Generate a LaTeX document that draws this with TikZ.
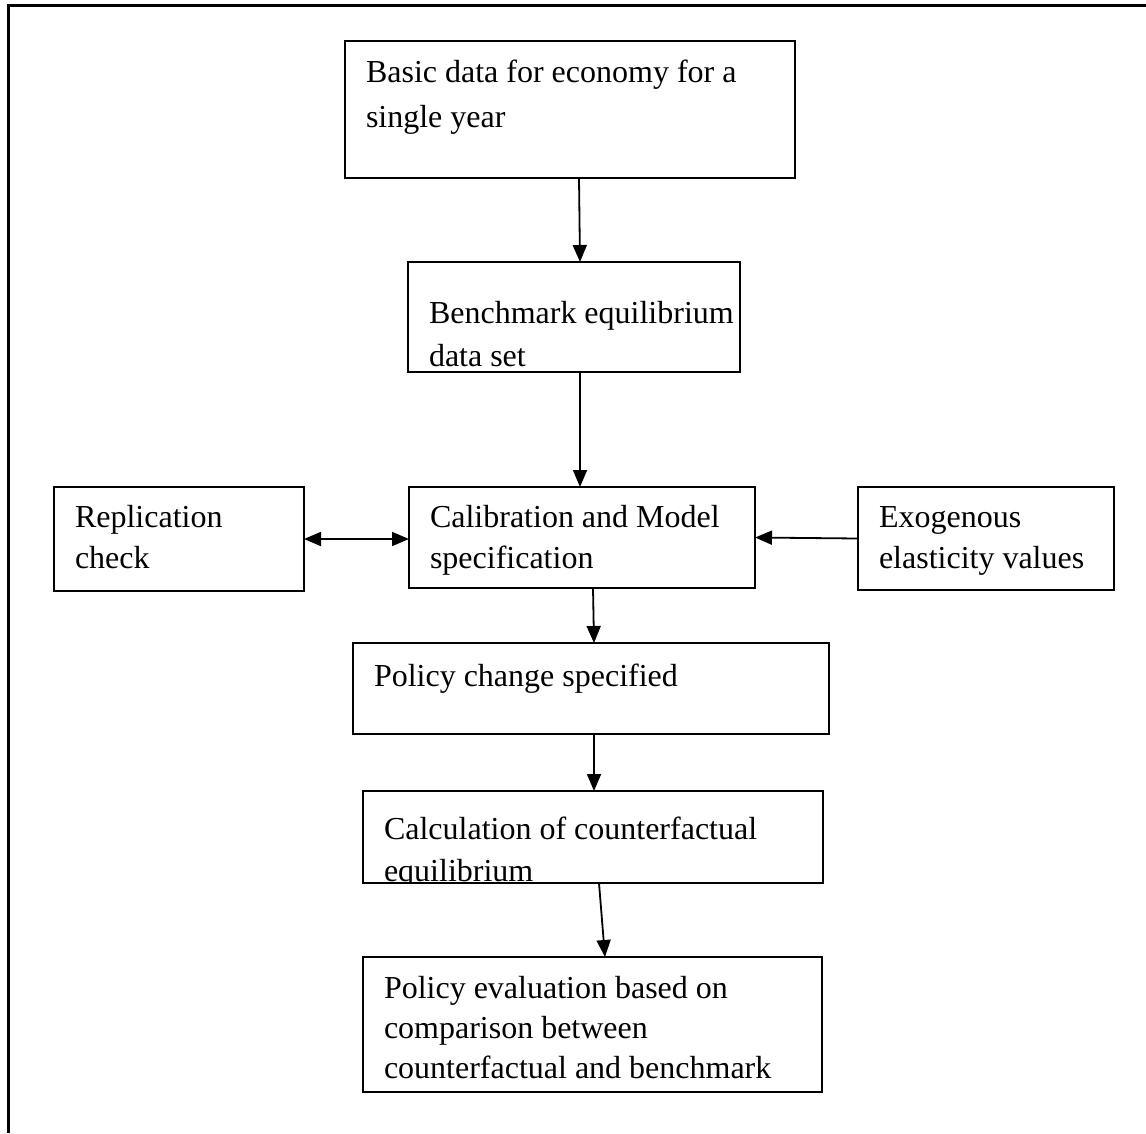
\documentclass[tikz,border=0pt]{standalone}
\usepackage{fontspec}
\setmainfont{Liberation Serif}
\usetikzlibrary{arrows.meta}

% box content: width, height, first baseline from top, line spacing, lines
\newcommand{\boxtext}[5]{%
  \parbox[t][#2][t]{#1}{\fontsize{32}{#4}\selectfont
    \leftskip=21pt\rightskip=0pt plus 1fil
    \rule{0pt}{#3}#5}}

\tikzset{
  box/.style={draw, line width=2pt, inner sep=0pt, outer sep=0pt, anchor=north west},
  textonly/.style={inner sep=0pt, outer sep=0pt, anchor=north west},
  tip/.tip={Triangle[length=17pt,width=14pt]},
  link/.style={line width=1.8pt, -tip},
  biglink/.style={line width=1.8pt, tip-tip},
  frame/.style={line width=3pt},
}

\begin{document}
\begin{tikzpicture}[x=1pt,y=-1pt]
\useasboundingbox (0,0) rectangle (1146,1133);

% open frame along the top and left
\draw[frame] (8,1133) -- (8,5) -- (1146,5);

% flow steps
\node[box] (basic) at (345,41)
  {\boxtext{450pt}{137pt}{41pt}{45pt}{\mbox{Basic data for economy for a}\\\mbox{single year}}};
\node[box] (bench) at (408,262)
  {\boxtext{332pt}{110pt}{61pt}{43pt}{\mbox{Benchmark equilibrium}\\\mbox{data set}}};
\node[box] (calib) at (409,487)
  {\boxtext{346pt}{101pt}{40pt}{41pt}{\mbox{Calibration and Model}\\\mbox{specification}}};
\node[box] (repl) at (54,487)
  {\boxtext{250pt}{104pt}{40pt}{41pt}{\mbox{Replication}\\\mbox{check}}};
\node[box] (exog) at (858,487)
  {\boxtext{256pt}{103pt}{40pt}{41pt}{\mbox{Exogenous}\\\mbox{elasticity values}}};
\node[box] (policy) at (353,643)
  {\boxtext{476pt}{91pt}{43pt}{42pt}{\mbox{Policy change specified}}};
\node[box, minimum width=460pt, minimum height=92pt] (counter) at (363,791) {};
\begin{scope}
  \clip ([yshift=1pt]counter.south west) rectangle (counter.north east);
  \node[textonly] (countertext) at (counter.north west)
    {\boxtext{460pt}{92pt}{48pt}{42pt}{\mbox{Calculation of counterfactual}\\\mbox{equilibrium}}};
\end{scope}
\node[box] (evalu) at (363,957)
  {\boxtext{459pt}{135pt}{41pt}{40pt}{\mbox{Policy evaluation based on}\\\mbox{comparison between}\\\mbox{counterfactual and benchmark}}};

% connectors
\draw[link] ([xshift=234pt]basic.south west) -- ([xshift=172pt]bench.north west);
\draw[link] ([xshift=172pt]bench.south west) -- ([xshift=171pt]calib.north west);
\draw[biglink] (repl.east) -- (repl.east -| calib.west);
\draw[link] (exog.west) -- (calib.east);
\draw[link] ([xshift=184pt]calib.south west) -- ([xshift=241pt]policy.north west);
\draw[link] ([xshift=241pt]policy.south west) -- ([xshift=231pt]counter.north west);
\draw[link] ([xshift=236pt]counter.south west) -- ([xshift=242pt]evalu.north west);
\end{tikzpicture}
\end{document}
